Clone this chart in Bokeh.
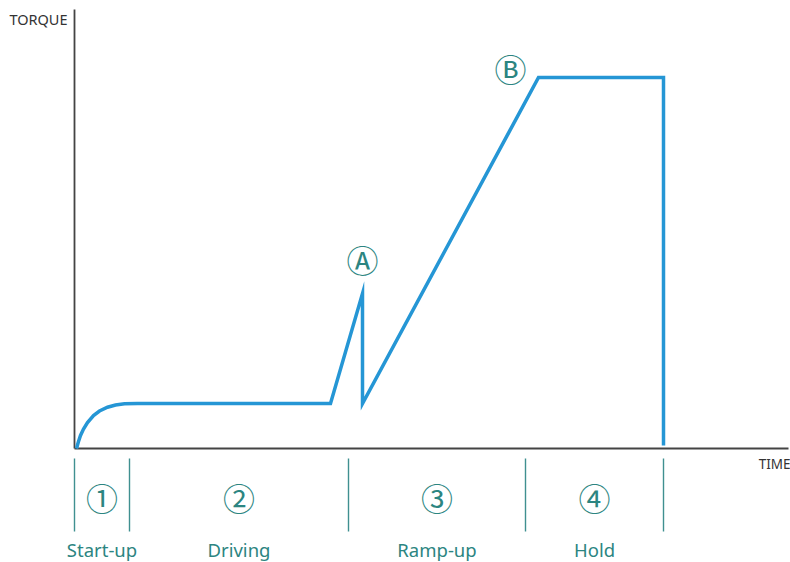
from bokeh.plotting import figure
from bokeh.models import Range1d, ColumnDataSource
from bokeh.core.properties import value
from bokeh.embed import file_html
from bokeh.resources import INLINE

# ---- data (time / torque in arbitrary units) ----
time = [2, 4, 6, 9, 13, 19, 25, 33, 41, 50, 63, 256, 288, 288, 464, 589, 589]
torque = [0, 7, 13, 19.5, 26, 33, 37.5, 41.3, 43.5, 44.7, 45, 45, 155, 45, 371, 371, 3]

phase_bounds = [0, 55, 274, 451, 589]
phase_numbers = ["①", "②", "③", "④"]
phase_names = ["Start-up", "Driving", "Ramp-up", "Hold"]

marker_labels = ["Ⓐ", "Ⓑ"]
marker_time = [288, 436]
marker_torque = [190, 381]

y_axis_label = "TORQUE"
x_axis_label = "TIME"

# ---- figure ----
W, H = 790, 562
x0, y0 = -74, -114
p = figure(width=W, height=H, output_backend="svg", toolbar_location=None,
           x_range=Range1d(x0, x0 + W), y_range=Range1d(y0, y0 + H),
           x_axis_type=None, y_axis_type=None, min_border=0)
p.outline_line_color = None
p.xgrid.visible = False
p.ygrid.visible = False

axis_col = "#444444"
teal = "#2c8581"
blue = "#2596d5"

# axes
p.segment(x0=[0, 0], y0=[0, 0], x1=[0, x0 + W - 2], y1=[y0 + H - 9, 0],
          line_color=axis_col, line_width=1.8)

# torque curve
p.line(time, torque, line_color=blue, line_width=3.5, line_join="miter")

# phase dividers
p.segment(x0=phase_bounds, x1=phase_bounds, y0=[-10] * 5, y1=[-83] * 5,
          line_color="#3f9090", line_width=1.4)

mids = [(a + b) / 2 for a, b in zip(phase_bounds[:-1], phase_bounds[1:])]
src = ColumnDataSource(dict(x=mids, num=phase_numbers, name=phase_names,
                            yn=[-48.5] * 4, yl=[-100.5] * 4))
p.text(x="x", y="yn", text="num", source=src, text_align="center",
       text_baseline="middle", text_color=teal, text_font_size="32px",
       text_font=value("Noto Sans CJK JP"))
p.text(x="x", y="yl", text="name", source=src, text_align="center",
       text_baseline="middle", text_color=teal, text_font_size="18.5px",
       text_font=value("Noto Sans"))

# circled markers
p.text(x=marker_time, y=marker_torque, text=marker_labels, text_align="center",
       text_baseline="middle", text_color=teal, text_font_size="32px",
       text_font=value("Noto Sans CJK JP"))

# axis titles
p.text(x=[-7], y=[430], text=[y_axis_label], text_align="right",
       text_baseline="middle", text_color="#333333", text_font_size="14.5px",
       text_font=value("Noto Sans"))
p.text(x=[x0 + W], y=[-15], text=[x_axis_label], text_align="right",
       text_baseline="middle", text_color="#333333", text_font_size="13.5px",
       text_font=value("Noto Sans"))

open("out.html", "w").write(file_html(p, INLINE))
